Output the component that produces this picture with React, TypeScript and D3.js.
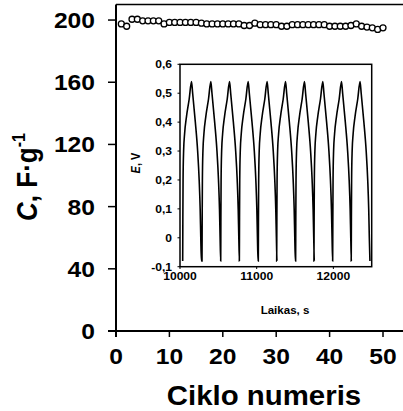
import React from "react";
import * as d3 from "d3";

// Main chart: specific capacitance vs cycle number
const capacitance = [
  197.5, 196.0, 200.5, 200.5, 199.5, 199.5, 199.5, 199.5, 197.5, 198.5,
  198.5, 198.5, 198.5, 198.5, 198.5, 198.0, 197.5, 197.5, 197.5, 197.5,
  197.5, 197.5, 197.5, 196.5, 196.5, 198.0, 197.0, 197.0, 197.0, 197.0,
  196.0, 196.0, 197.0, 197.0, 197.0, 197.0, 197.0, 197.0, 197.0, 196.0,
  196.0, 196.0, 196.0, 196.5, 197.5, 196.0, 195.5, 195.0, 194.0, 195.0,
];
const xTicks = [0, 10, 20, 30, 40, 50];
const yTicks = [0, 40, 80, 120, 160, 200];

// Inset: galvanostatic charge/discharge, E vs time
const cycleStarts = [10035, 10287, 10531, 10774, 11021, 11261, 11508, 11747, 11991, 12233];
const profileTime = [0, 2, 5, 12, 25, 50, 85, 115, 130, 165, 195, 215, 228, 236, 244];
const profileVolt = [-0.08, 0.05, 0.2, 0.3, 0.36, 0.42, 0.48, 0.54, 0.5, 0.4, 0.3, 0.2, 0.1, 0.0, -0.08];
const insetXTicks = [10000, 11000, 12000];
const insetYTicks = [-0.1, 0, 0.1, 0.2, 0.3, 0.4, 0.5, 0.6];

const W = 403;
const H = 411;
const FONT = "'Liberation Sans', Arial, sans-serif";

export default function App() {
  const x = d3.scaleLinear().domain([0, 55]).range([116, 116 + 55 * 5.34]);
  const y = d3.scaleLinear().domain([0, 210]).range([331, 4.5]);

  const ix = d3.scaleLinear().domain([10000, 12500]).range([180, 371.7]);
  const iy = d3.scaleLinear().domain([-0.1, 0.6]).range([266.7, 64.3]);

  const pts: [number, number][] = [];
  cycleStarts.forEach((s) => {
    profileTime.forEach((t, i) => pts.push([s + t, profileVolt[i]]));
  });
  const line = d3
    .line<[number, number]>()
    .x((d) => ix(d[0]))
    .y((d) => iy(d[1]))
    .curve(d3.curveMonotoneX);

  const fmtComma = (v: number) => (v === 0 ? "0" : d3.format(".1f")(v).replace(".", ","));

  const sx = 1.12;

  return (
    <svg width={W} height={H} style={{ position: "absolute", left: 0, top: 0, background: "#fff" }}>
      <rect x={0} y={0} width={W} height={H} fill="#fff" />
      {/* main frame */}
      <line x1={116} x2={W} y1={4.5} y2={4.5} stroke="#000" strokeWidth={1.5} />
      <line x1={116} x2={116} y1={4.5} y2={337} stroke="#000" strokeWidth={2} />
      <line x1={108} x2={W} y1={y(0)} y2={y(0)} stroke="#000" strokeWidth={2} />
      {yTicks.map((t) => (
        <g key={"yt" + t}>
          <line x1={108} x2={116} y1={y(t)} y2={y(t)} stroke="#000" strokeWidth={1.5} />
          <text
            transform={`translate(95,${y(t) + 8}) scale(${sx},1)`}
            textAnchor="end"
            fontFamily={FONT}
            fontWeight="bold"
            fontSize={22}
          >
            {t}
          </text>
        </g>
      ))}
      {xTicks.map((t) => (
        <g key={"xt" + t}>
          <line x1={x(t)} x2={x(t)} y1={y(0)} y2={337} stroke="#000" strokeWidth={1.5} />
          <text
            transform={`translate(${x(t)},${364}) scale(${sx},1)`}
            textAnchor="middle"
            fontFamily={FONT}
            fontWeight="bold"
            fontSize={22}
          >
            {t}
          </text>
        </g>
      ))}
      <text
        transform={`translate(264,405) scale(1.05,1)`}
        textAnchor="middle"
        fontFamily={FONT}
        fontWeight="bold"
        fontSize={28}
      >
        Ciklo numeris
      </text>
      <text
        transform={`translate(37,177) scale(${sx},1) rotate(-90)`}
        textAnchor="middle"
        fontFamily={FONT}
        fontWeight="bold"
        fontSize={26}
      >
        <tspan fontStyle="italic">C</tspan>
        <tspan>, F·g</tspan>
        <tspan fontSize={16} dy={-11}>-1</tspan>
      </text>
      {capacitance.map((v, i) => (
        <circle key={"c" + i} cx={x(i + 1)} cy={y(v)} r={3} fill="#fff" stroke="#000" strokeWidth={1.3} />
      ))}

      {/* inset */}
      <defs>
        <clipPath id="insetClip">
          <rect x={180} y={64.3} width={191.7} height={202.4} />
        </clipPath>
      </defs>
      <rect x={180} y={64.3} width={191.7} height={202.4} fill="#fff" stroke="#000" strokeWidth={1.5} />
      <path d={line(pts) || ""} fill="none" stroke="#000" strokeWidth={1.6} clipPath="url(#insetClip)" />
      {insetYTicks.map((t) => (
        <g key={"iyt" + t}>
          <line x1={177.5} x2={180} y1={iy(t)} y2={iy(t)} stroke="#000" strokeWidth={1} />
          <text
            transform={`translate(172,${iy(t) + 4}) scale(1.1,1)`}
            textAnchor="end"
            fontFamily={FONT}
            fontWeight="bold"
            fontSize={11}
          >
            {t < 0 ? "-" + fmtComma(-t) : fmtComma(t)}
          </text>
        </g>
      ))}
      {insetXTicks.map((t) => (
        <g key={"ixt" + t}>
          <line x1={ix(t)} x2={ix(t)} y1={266.7} y2={269} stroke="#000" strokeWidth={1} />
          <text
            transform={`translate(${ix(t)},279.5) scale(1.1,1)`}
            textAnchor="middle"
            fontFamily={FONT}
            fontWeight="bold"
            fontSize={11}
          >
            {t}
          </text>
        </g>
      ))}
      <text
        transform={`translate(285,313.5) scale(1.05,1)`}
        textAnchor="middle"
        fontFamily={FONT}
        fontWeight="bold"
        fontSize={11}
      >
        Laikas,  s
      </text>
      <text
        transform={`translate(140,163) scale(1.1,1) rotate(-90)`}
        textAnchor="middle"
        fontFamily={FONT}
        fontWeight="bold"
        fontSize={11}
      >
        <tspan fontStyle="italic">E</tspan>
        <tspan>, V</tspan>
      </text>
    </svg>
  );
}
